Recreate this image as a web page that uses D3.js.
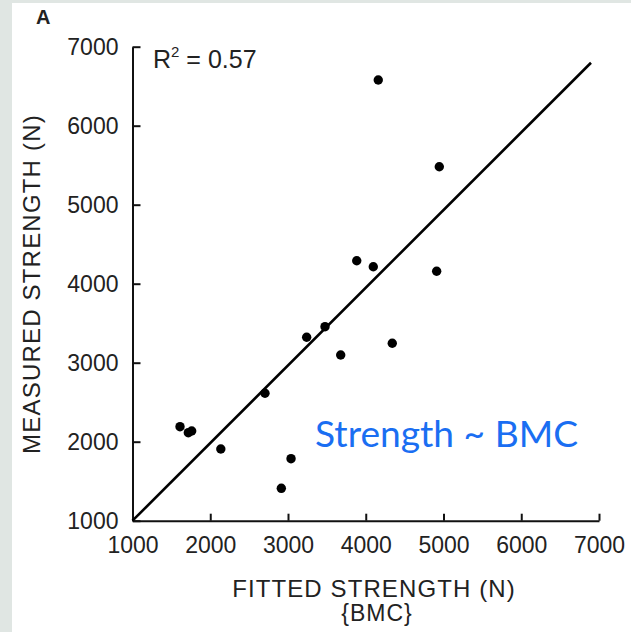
<!DOCTYPE html>
<html lang="en">
<head>
    <title>Measured vs fitted strength</title>
    <meta charset="utf-8">
    <style>
        body { margin: 0; background: #e0e6e3; }
        text { font-family: 'Liberation Sans', Arial, sans-serif; fill: #222; }
        .axis path, .axis line { stroke: #111; }
        .axis text { font-size: 23px; fill: #222; }
        .dataPoint { fill: #000; }
        .fitLine { stroke: #000; stroke-width: 2.6px; }
    </style>
</head>
<body>
    <svg id="chart"></svg>

    <script src="https://d3js.org/d3.v7.min.js"></script>
    <script>
// values
const fitted   = [1611, 1718, 1761, 2136, 2704, 2914, 3039, 3240, 3476, 3678, 3884, 4097, 4341, 4912, 4946, 4161];
const measured = [2190, 2114, 2135, 1908, 2613, 1410, 1785, 3322, 3456, 3097, 4291, 4215, 3246, 4157, 5481, 6578];
const lineX = [1000, 6897];
const lineY = [1000, 6797];
const ticks = [1000, 2000, 3000, 4000, 5000, 6000, 7000];
const rSquared = "0.57";

function initializeChart(graph) {
    let svg = d3.select("#chart")
        .attr("width", 631)
        .attr("height", 632)
        .style("display", "block");

    // grey frame, white panel
    svg.append("rect").attr("width", 631).attr("height", 632).attr("fill", "#e0e6e3");
    svg.append("rect").attr("x", 12).attr("y", 3).attr("width", 619).attr("height", 629).attr("fill", "#fff");

    graph.svg = svg;

    let xScale = d3.scaleLinear().domain([1000, 7000]).range([132.5, 599]);
    let yScale = d3.scaleLinear().domain([1000, 7000]).range([520.7, 46.7]);
    graph.xScale = xScale;
    graph.yScale = yScale;

    // x-axis, ticks pointing inwards
    svg.append("g")
        .attr("class", "axis axis-x")
        .attr("transform", "translate(0," + yScale(1000) + ")")
        .call(d3.axisBottom(xScale)
                .tickValues(ticks)
                .tickFormat(d3.format("d"))
                .tickSizeInner(-7)
                .tickSizeOuter(0)
                .tickPadding(16))
        .call(g => g.selectAll("path, line").attr("stroke-width", 2));

    // y-axis
    svg.append("g")
        .attr("class", "axis axis-y")
        .attr("transform", "translate(" + xScale(1000) + ",0)")
        .call(d3.axisLeft(yScale)
                .tickValues(ticks)
                .tickFormat(d3.format("d"))
                .tickSizeInner(-8)
                .tickSizeOuter(0)
                .tickPadding(14))
        .call(g => g.selectAll("path, line").attr("stroke-width", 2));

    svg.selectAll(".axis").attr("font-family", null).attr("font-size", null);

    // titles
    svg.append("text")
        .attr("x", 374).attr("y", 597)
        .attr("text-anchor", "middle")
        .style("font-size", "24px").style("letter-spacing", "1.1px")
        .text("FITTED STRENGTH (N)");
    svg.append("text")
        .attr("x", 377).attr("y", 621)
        .attr("text-anchor", "middle")
        .style("font-size", "23px").style("letter-spacing", "1px")
        .text("{BMC}");
    svg.append("text")
        .attr("transform", "translate(40,284) rotate(-90)")
        .attr("text-anchor", "middle")
        .style("font-size", "24px").style("letter-spacing", "1.2px")
        .text("MEASURED STRENGTH (N)");

    svg.append("text")
        .attr("x", 36).attr("y", 24)
        .style("font-size", "20px").style("font-weight", "bold")
        .text("A");

    let r2 = svg.append("text")
        .attr("x", 153).attr("y", 68)
        .style("font-size", "25px");
    r2.append("tspan").text("R");
    r2.append("tspan").attr("dy", -11).style("font-size", "15px").text("2");
    r2.append("tspan").attr("dy", 11).text(" = " + rSquared);
}

function drawChart(graph) {
    let line = d3.line()
        .x(d => graph.xScale(d[0]))
        .y(d => graph.yScale(d[1]));

    graph.svg.append("path")
        .datum(lineX.map((x, i) => [x, lineY[i]]))
        .attr("class", "fitLine")
        .attr("fill", "none")
        .attr("d", line);

    graph.svg.selectAll("circle.dataPoint")
        .data(fitted.map((x, i) => ({x: x, y: measured[i]})))
        .join("circle")
        .attr("class", "dataPoint")
        .attr("cx", d => graph.xScale(d.x))
        .attr("cy", d => graph.yScale(d.y))
        .attr("r", 4.7);

    // blue annotation, sized to its width in the picture
    let note = graph.svg.append("text")
        .attr("x", 315).attr("y", 447)
        .style("font-family", "Lato, 'Noto Sans', sans-serif")
        .style("fill", "#1a6ef2")
        .style("font-size", "33px")
        .text("Strength ~ BMC");
    let w = note.node().getComputedTextLength();
    note.style("font-size", (33 * 263 / w).toFixed(2) + "px");
}

let graph = {};
initializeChart(graph);
drawChart(graph);
    </script>
</body>
</html>
